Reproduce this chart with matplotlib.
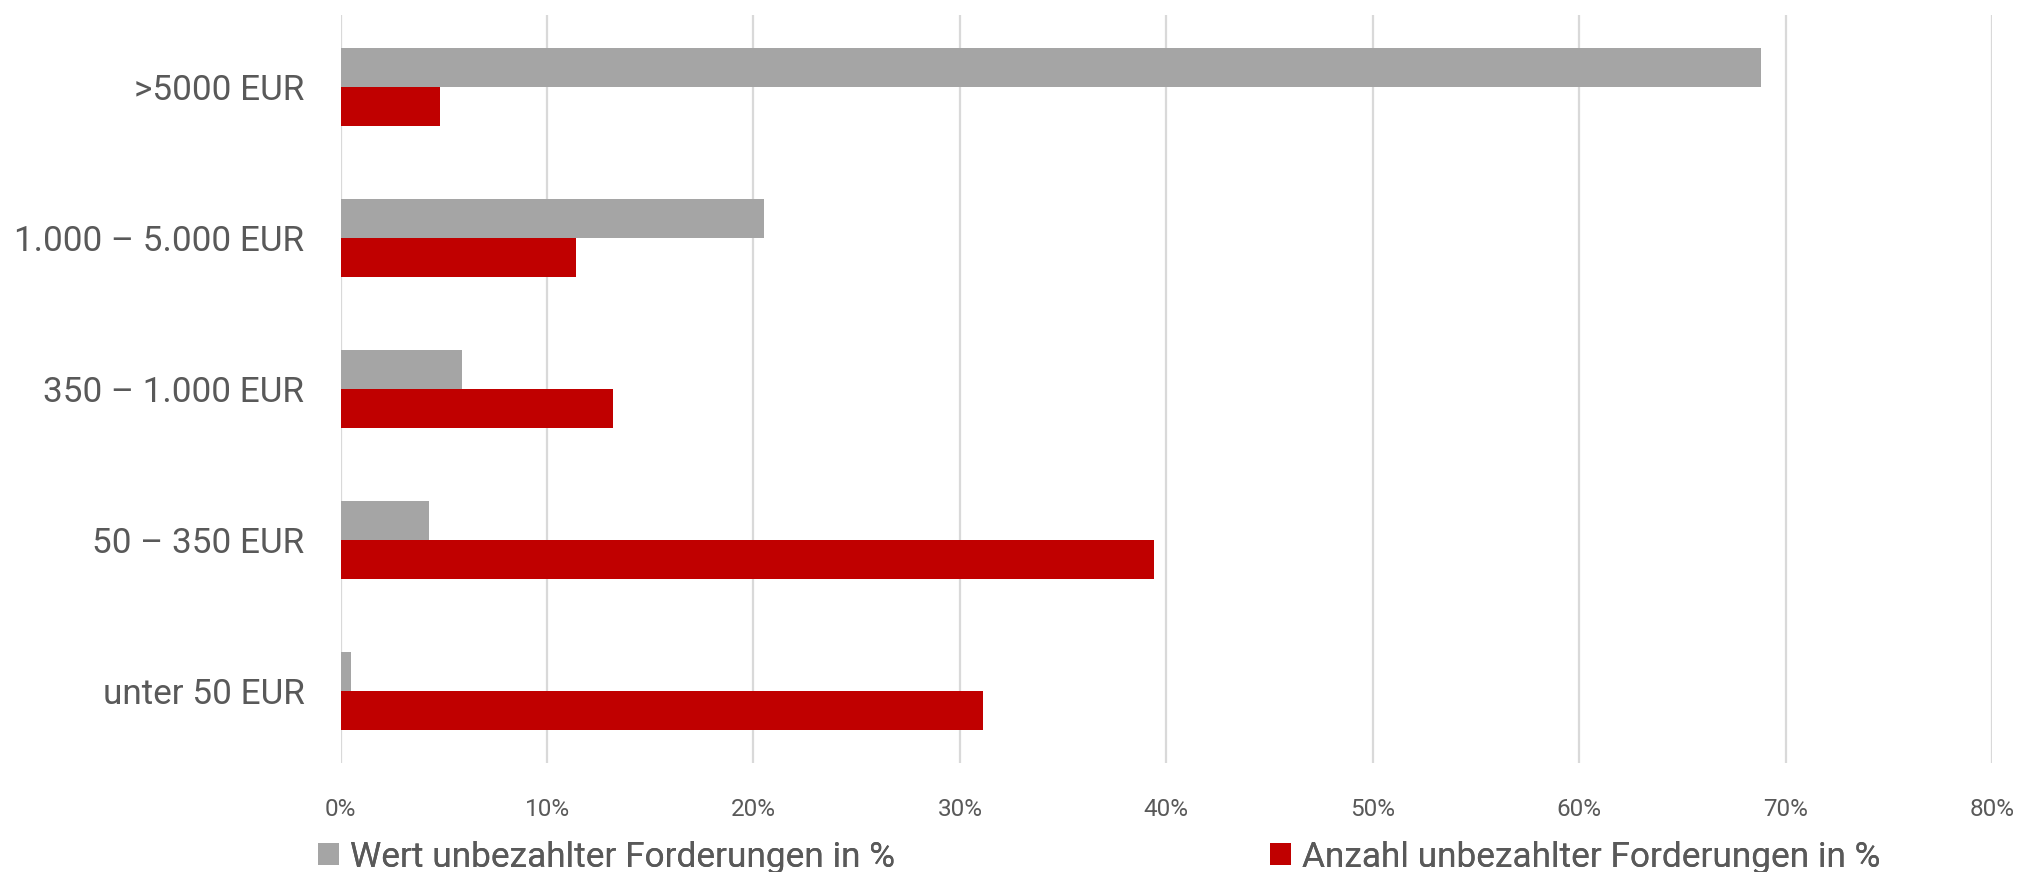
import matplotlib
matplotlib.use("Agg")
import matplotlib.pyplot as plt
from matplotlib.patches import Patch
import numpy as np

# ---- data ----
categories = ["unter 50 EUR", "50 – 350 EUR", "350 – 1.000 EUR", "1.000 – 5.000 EUR", ">5000 EUR"]
wert = [0.5, 4.3, 5.9, 20.5, 68.8]      # Wert unbezahlter Forderungen in %
anzahl = [31.1, 39.4, 13.2, 11.4, 4.8]  # Anzahl unbezahlter Forderungen in %
x_ticks = [0, 10, 20, 30, 40, 50, 60, 70, 80]
series_labels = ["Wert unbezahlter Forderungen in %", "Anzahl unbezahlter Forderungen in %"]

plt.rcParams["font.family"] = ["Roboto", "DejaVu Sans"]

ylab_fs = 25.3
tick_fs = 17.5
leg_fs = 25.4

text_col = "#595959"
grey = "#a5a5a5"
red = "#c00000"

fig = plt.figure(figsize=(20.22, 8.72), dpi=100)
ax = fig.add_axes([340.6 / 2022, 1 - 763 / 872, (1992 - 340.6) / 2022, (763 - 15) / 872])

y = np.arange(len(categories))
h = 0.259
ax.barh(y + h / 2, wert, height=h, color=grey, zorder=3)
ax.barh(y - h / 2, anzahl, height=h, color=red, zorder=3)

ax.set_xlim(0, 80)
ax.set_ylim(-0.48, 4.48)
ax.set_xticks(x_ticks)
ax.set_xticklabels([f"{v}%" for v in x_ticks], fontsize=tick_fs, color=text_col)
ax.set_yticks(y)
ax.set_yticklabels(categories, fontsize=ylab_fs, color=text_col)
ax.tick_params(axis="both", length=0)
ax.tick_params(axis="x", pad=25)
ax.tick_params(axis="y", pad=26)
ax.grid(axis="x", color="#d9d9d9", linewidth=1.6, zorder=0)
for s in ax.spines.values():
    s.set_visible(False)

hl = 21 / (leg_fs * 100 / 72)
for lab, col, xpos in [(series_labels[0], grey, 318), (series_labels[1], red, 1270)]:
    leg = fig.legend(handles=[Patch(facecolor=col, label=lab)], loc="center left",
                     bbox_to_anchor=(xpos / 2022, 1 - 857 / 872), frameon=False,
                     fontsize=leg_fs, handlelength=hl, handleheight=hl,
                     handletextpad=0.3, borderpad=0, borderaxespad=0)
    for t in leg.get_texts():
        t.set_color(text_col)
    fig.add_artist(leg)

fig.savefig("out.png", dpi=100)
